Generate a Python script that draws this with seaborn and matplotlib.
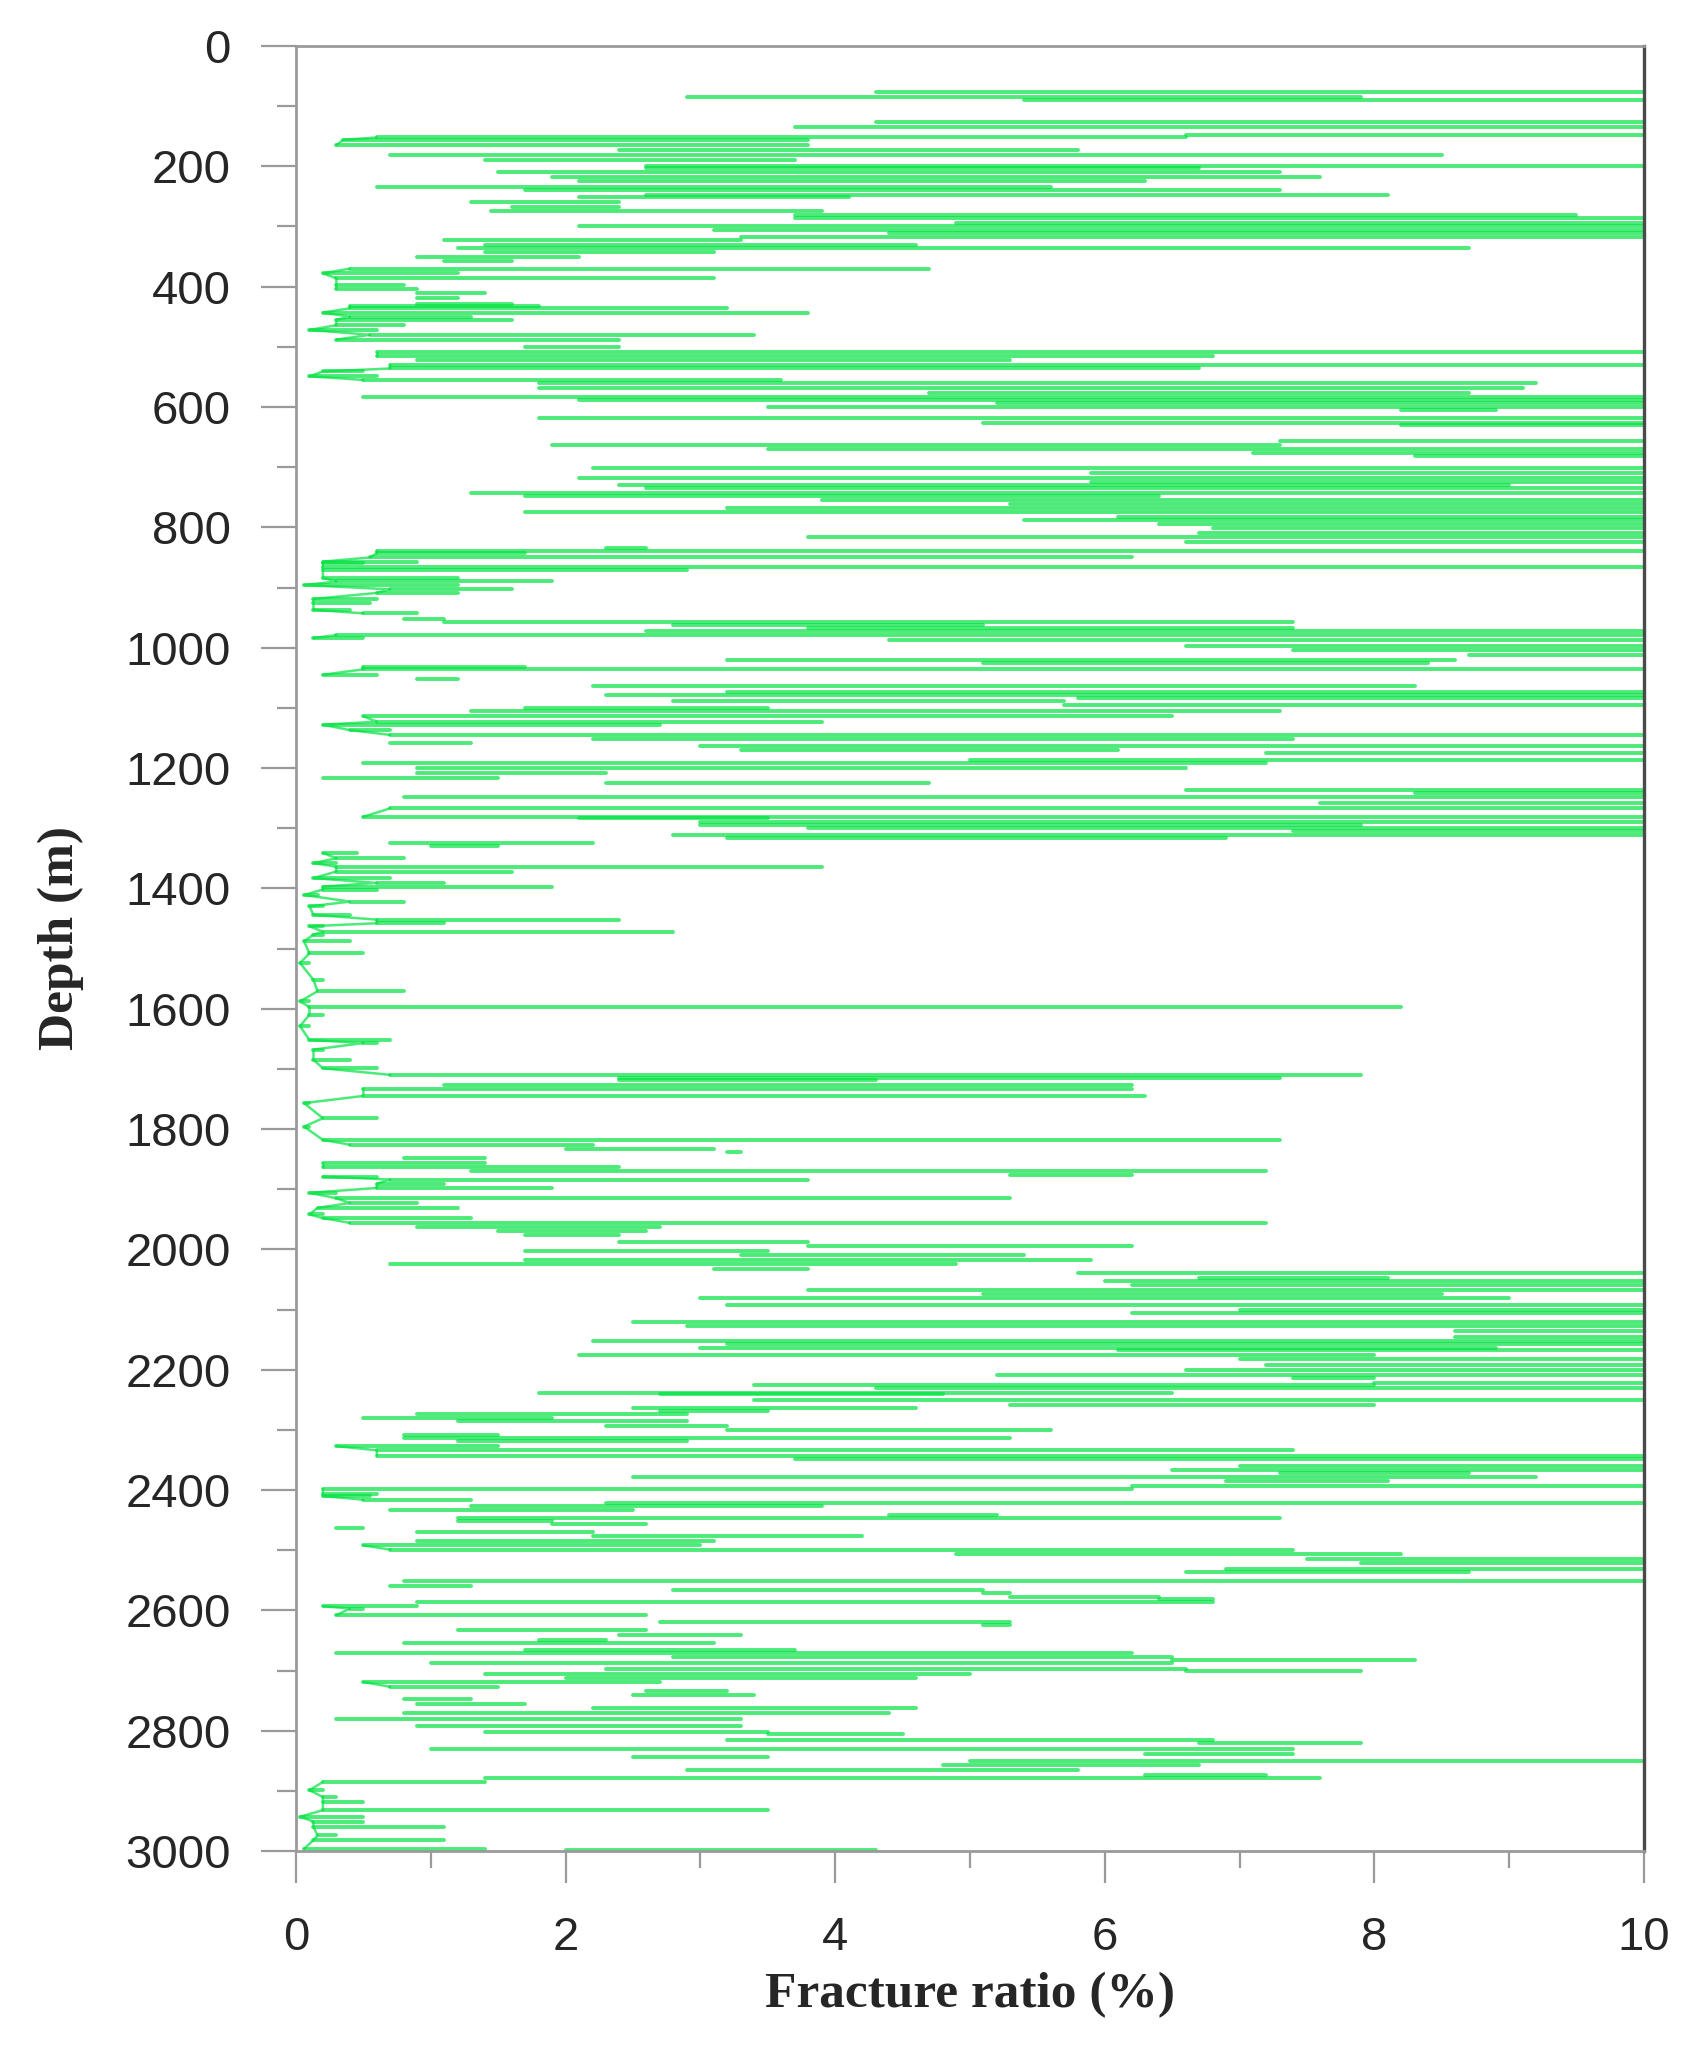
import numpy as np
import pandas as pd
import matplotlib
matplotlib.use("Agg")
import matplotlib.pyplot as plt
from matplotlib.ticker import MultipleLocator
import seaborn as sns

# Each horizontal stroke of the log: depth (m), left end and right end (%)
depth_m = [
    76, 84, 90, 126, 135, 148, 152, 156, 165, 173,
    181, 189, 199, 203, 210, 218, 225, 234, 240, 248,
    251, 260, 267, 275, 281, 286, 295, 300, 306, 311,
    317, 322, 331, 336, 342, 350, 358, 370, 378, 386,
    397, 404, 411, 419, 428, 432, 436, 443, 450, 455,
    464, 472, 480, 488, 500, 508, 516, 522, 530, 536,
    541, 549, 555, 560, 569, 577, 584, 588, 594, 600,
    605, 619, 626, 630, 657, 663, 670, 677, 682, 702,
    710, 718, 724, 729, 735, 743, 748, 754, 761, 768,
    775, 782, 788, 794, 801, 810, 816, 824, 835, 839,
    843, 850, 857, 860, 866, 871, 884, 890, 896, 903,
    909, 919, 926, 937, 943, 953, 958, 962, 968, 973,
    979, 984, 987, 997, 1004, 1012, 1020, 1026, 1032, 1036,
    1045, 1052, 1064, 1073, 1078, 1084, 1089, 1095, 1100, 1106,
    1114, 1123, 1128, 1137, 1145, 1152, 1158, 1164, 1170, 1175,
    1186, 1192, 1200, 1208, 1217, 1225, 1236, 1242, 1248, 1258,
    1267, 1281, 1283, 1290, 1294, 1300, 1305, 1311, 1316, 1325,
    1330, 1341, 1350, 1358, 1364, 1372, 1383, 1391, 1397, 1402,
    1411, 1422, 1430, 1444, 1452, 1458, 1463, 1472, 1477, 1488,
    1508, 1524, 1552, 1571, 1588, 1597, 1610, 1629, 1652, 1657,
    1668, 1685, 1699, 1710, 1715, 1718, 1726, 1733, 1745, 1757,
    1782, 1796, 1818, 1826, 1834, 1839, 1848, 1856, 1863, 1869,
    1876, 1879, 1884, 1891, 1898, 1906, 1915, 1923, 1931, 1942,
    1948, 1956, 1962, 1970, 1976, 1987, 1994, 2002, 2009, 2017,
    2024, 2033, 2039, 2048, 2053, 2060, 2068, 2075, 2081, 2092,
    2100, 2106, 2120, 2128, 2136, 2145, 2153, 2158, 2164, 2168,
    2175, 2183, 2192, 2200, 2208, 2214, 2222, 2225, 2230, 2239,
    2241, 2250, 2258, 2264, 2269, 2273, 2280, 2286, 2294, 2301,
    2308, 2313, 2319, 2327, 2334, 2343, 2349, 2360, 2366, 2372,
    2378, 2385, 2393, 2398, 2406, 2410, 2416, 2421, 2427, 2434,
    2441, 2446, 2452, 2457, 2463, 2470, 2477, 2485, 2492, 2499,
    2507, 2514, 2521, 2532, 2537, 2552, 2560, 2566, 2571, 2577,
    2581, 2586, 2593, 2597, 2608, 2619, 2625, 2633, 2641, 2649,
    2655, 2666, 2671, 2677, 2683, 2688, 2697, 2700, 2705, 2712,
    2719, 2727, 2734, 2741, 2748, 2755, 2763, 2771, 2780, 2792,
    2802, 2806, 2815, 2821, 2830, 2838, 2844, 2850, 2857, 2866,
    2874, 2879, 2885, 2899, 2910, 2918, 2932, 2943, 2951, 2960,
    2974, 2982, 2996, 2998,
]
low_pct = [
    4.3, 2.9, 5.4, 4.3, 3.7, 6.6, 0.6, 0.35, 0.3, 2.4,
    0.7, 1.4, 2.6, 2.6, 1.5, 1.9, 2.1, 0.6, 1.7, 2.6,
    2.1, 1.3, 1.6, 1.45, 3.7, 3.7, 4.9, 2.1, 3.1, 4.4,
    3.3, 1.1, 1.4, 1.2, 1.4, 0.9, 1.1, 0.4, 0.2, 0.3,
    0.3, 0.3, 0.9, 0.9, 0.9, 0.4, 0.4, 0.2, 0.4, 0.3,
    0.3, 0.1, 0.55, 0.3, 1.7, 0.6, 0.6, 0.9, 0.7, 0.7,
    0.2, 0.1, 0.5, 1.8, 1.8, 4.7, 0.5, 2.1, 5.2, 3.5,
    8.2, 1.8, 5.1, 8.2, 7.3, 1.9, 3.5, 7.1, 8.3, 2.2,
    5.9, 2.1, 5.9, 2.4, 2.6, 1.3, 1.7, 3.9, 5.3, 3.2,
    1.7, 6.1, 5.4, 6.4, 6.8, 6.7, 3.8, 6.6, 2.3, 0.6,
    0.6, 0.55, 0.2, 0.2, 0.2, 0.2, 0.2, 0.3, 0.06, 0.7,
    0.6, 0.13, 0.13, 0.13, 0.5, 0.8, 1.1, 2.8, 3.8, 2.6,
    0.3, 0.13, 4.4, 6.6, 7.4, 8.7, 3.2, 5.1, 0.5, 0.5,
    0.2, 0.9, 2.2, 3.2, 2.3, 5.8, 2.8, 5.7, 1.7, 1.3,
    0.5, 0.6, 0.2, 0.4, 0.7, 2.2, 0.7, 3.0, 3.3, 7.2,
    5.0, 0.5, 0.9, 0.9, 0.2, 2.3, 6.6, 8.3, 0.8, 7.6,
    0.7, 0.5, 2.1, 3.0, 3.0, 3.8, 7.4, 2.8, 3.2, 0.7,
    1.0, 0.2, 0.3, 0.13, 0.3, 0.3, 0.13, 0.6, 0.2, 0.2,
    0.06, 0.4, 0.1, 0.13, 0.6, 0.6, 0.1, 0.2, 0.13, 0.06,
    0.1, 0.03, 0.13, 0.16, 0.03, 0.1, 0.1, 0.03, 0.1, 0.5,
    0.13, 0.13, 0.2, 0.7, 2.4, 2.4, 1.1, 0.5, 0.5, 0.06,
    0.2, 0.06, 0.2, 0.4, 2.0, 3.2, 0.8, 0.2, 0.2, 1.3,
    5.3, 0.2, 0.7, 0.6, 0.6, 0.1, 0.3, 0.4, 0.16, 0.1,
    0.2, 0.4, 0.9, 1.5, 1.7, 2.4, 3.8, 1.7, 3.3, 1.7,
    0.7, 3.1, 5.8, 6.7, 6.0, 6.2, 3.8, 5.1, 3.0, 3.2,
    7.0, 6.2, 2.5, 2.9, 8.6, 8.6, 2.2, 3.2, 3.0, 6.1,
    2.1, 7.0, 7.2, 6.6, 5.2, 7.4, 8.0, 3.4, 4.3, 1.8,
    2.7, 3.4, 5.3, 2.5, 2.7, 0.9, 0.5, 1.2, 2.3, 3.2,
    0.8, 0.8, 1.2, 0.3, 0.6, 0.6, 3.7, 7.0, 6.5, 7.3,
    2.5, 6.9, 6.2, 0.2, 0.2, 0.2, 0.5, 2.3, 1.3, 0.7,
    4.4, 1.2, 1.2, 1.9, 0.3, 0.9, 2.2, 0.9, 0.5, 0.7,
    4.9, 7.5, 7.9, 6.9, 6.6, 0.8, 0.7, 2.8, 5.1, 5.3,
    6.4, 0.9, 0.2, 0.4, 0.3, 2.7, 5.1, 1.2, 2.4, 1.8,
    0.8, 1.7, 0.3, 2.8, 6.5, 1.0, 2.3, 6.6, 1.4, 2.0,
    0.5, 0.7, 2.6, 2.5, 0.8, 0.9, 2.2, 0.8, 0.3, 0.9,
    1.4, 3.5, 3.2, 6.7, 1.0, 6.3, 2.5, 5.0, 4.8, 2.9,
    6.3, 1.4, 0.2, 0.1, 0.2, 0.2, 0.2, 0.03, 0.13, 0.13,
    0.16, 0.13, 0.06, 2.0,
]
high_pct = [
    10, 7.9, 10, 10, 10, 10, 6.6, 3.8, 3.8, 5.8,
    8.5, 3.7, 10, 6.7, 7.3, 7.6, 6.3, 5.6, 7.3, 8.1,
    4.1, 2.4, 2.4, 3.9, 9.5, 10, 10, 10, 10, 10,
    10, 3.3, 4.6, 8.7, 3.1, 2.1, 1.6, 4.7, 1.2, 3.1,
    0.8, 0.9, 1.4, 1.2, 1.6, 1.8, 3.2, 3.8, 1.3, 1.6,
    0.8, 0.6, 3.4, 2.4, 2.4, 10, 6.8, 5.3, 10, 6.7,
    0.5, 0.6, 3.6, 9.2, 9.1, 8.7, 10, 10, 10, 10,
    8.9, 10, 10, 10, 10, 7.3, 10, 10, 10, 10,
    10, 10, 10, 9.0, 10, 10, 6.4, 10, 10, 10,
    10, 10, 10, 10, 10, 10, 10, 10, 2.6, 10,
    1.7, 6.2, 0.9, 0.5, 10, 2.9, 1.2, 1.9, 1.2, 1.6,
    1.2, 0.6, 0.55, 0.4, 0.9, 1.1, 7.4, 5.1, 7.4, 10,
    10, 0.5, 10, 10, 10, 10, 8.6, 8.4, 1.7, 10,
    0.6, 1.2, 8.3, 10, 10, 10, 5.7, 10, 3.5, 7.3,
    6.5, 3.9, 2.7, 0.7, 10, 7.4, 1.3, 10, 6.1, 10,
    10, 7.2, 6.6, 2.3, 1.5, 4.7, 10, 10, 10, 10,
    10, 10, 3.5, 10, 7.9, 10, 10, 10, 6.9, 2.2,
    1.5, 0.45, 0.8, 0.3, 3.9, 1.6, 0.7, 1.1, 1.9, 0.6,
    0.16, 0.8, 0.2, 0.4, 2.4, 1.1, 0.2, 2.8, 0.2, 0.4,
    0.5, 0.1, 0.2, 0.8, 0.1, 8.2, 0.2, 0.1, 0.7, 0.6,
    0.2, 0.4, 0.6, 7.9, 7.3, 4.3, 6.2, 6.2, 6.3, 0.1,
    0.6, 0.1, 7.3, 2.2, 3.1, 3.3, 1.4, 1.4, 2.4, 7.2,
    6.2, 0.6, 3.8, 1.1, 1.9, 0.3, 5.3, 0.9, 1.2, 0.2,
    1.3, 7.2, 2.7, 2.6, 2.4, 3.8, 6.2, 3.5, 5.4, 5.9,
    4.9, 3.8, 10, 8.1, 10, 10, 10, 8.5, 9.0, 10,
    10, 10, 10, 10, 10, 10, 10, 10, 8.9, 10,
    8.0, 10, 10, 10, 10, 8.0, 10, 8.0, 10, 6.5,
    4.8, 10, 8.0, 4.6, 3.5, 2.9, 1.9, 2.9, 3.2, 5.6,
    1.5, 5.3, 2.9, 1.5, 7.4, 10, 10, 10, 10, 8.7,
    9.2, 8.1, 10, 6.2, 0.6, 0.55, 1.3, 10, 3.9, 2.5,
    5.2, 7.3, 1.9, 2.6, 0.5, 2.2, 4.2, 3.1, 3.0, 7.4,
    8.2, 10, 10, 10, 8.7, 10, 1.3, 5.1, 5.3, 6.4,
    6.8, 6.8, 0.9, 0.5, 2.6, 5.3, 5.3, 2.6, 3.3, 2.3,
    3.1, 3.7, 6.2, 6.5, 8.3, 6.5, 6.6, 7.9, 5.0, 4.6,
    2.7, 1.5, 3.2, 3.4, 1.3, 1.7, 4.6, 4.4, 3.3, 3.3,
    3.5, 4.5, 6.8, 7.9, 7.4, 7.4, 3.5, 10, 6.7, 5.8,
    7.2, 7.6, 1.4, 0.2, 0.3, 0.5, 3.5, 0.5, 0.5, 1.1,
    0.3, 1.1, 1.4, 4.3,
]

x_ticks = [0, 2, 4, 6, 8, 10]
y_ticks = [0, 200, 400, 600, 800, 1000, 1200, 1400, 1600, 1800,
           2000, 2200, 2400, 2600, 2800, 3000]

# two points per stroke so every stroke is its own line
n = len(depth_m)
strokes = pd.DataFrame({
    "depth": np.repeat(depth_m, 2),
    "ratio": np.column_stack([low_pct, high_pct]).ravel(),
    "row": np.repeat(np.arange(n), 2),
})

# left-end trace only where the log hugs zero
low = np.array(low_pct)
near_zero = low <= 0.7
run = np.cumsum(~near_zero)
trace = pd.DataFrame({"depth": np.array(depth_m)[near_zero],
                      "ratio": low[near_zero],
                      "run": run[near_zero]})

sns.set_style("ticks")
plt.rcParams["font.family"] = ["Liberation Sans", "DejaVu Sans"]

fig = plt.figure(figsize=(16.97, 20.62), dpi=100)
ax = fig.add_axes([0.1744, 0.1023, 0.7943, 0.8754])

green = "#00E23F"
sns.lineplot(data=strokes, x="ratio", y="depth", units="row", estimator=None,
             sort=False, color=green, alpha=0.7, lw=2.8, ax=ax, legend=False)
sns.lineplot(data=trace, x="ratio", y="depth", units="run", estimator=None,
             sort=False, color=green, alpha=0.7, lw=1.8, ax=ax, legend=False)

ax.set_xlim(0, 10)
ax.set_ylim(3000, 0)
ax.set_xticks(x_ticks)
ax.set_yticks(y_ticks)
ax.xaxis.set_minor_locator(MultipleLocator(1))
ax.yaxis.set_minor_locator(MultipleLocator(100))

grey = "#9a9a9a"
ax.tick_params(axis="y", which="major", direction="out", length=25, width=1.6,
               color=grey, labelsize=34, pad=22, left=True)
ax.tick_params(axis="y", which="minor", direction="out", length=14, width=1.6,
               color=grey, left=True)
ax.tick_params(axis="x", which="major", direction="out", length=23, width=1.6,
               color=grey, labelsize=34, pad=24, bottom=True)
ax.tick_params(axis="x", which="minor", direction="out", length=12, width=1.6,
               color=grey, bottom=True)

for side in ["top", "left", "bottom"]:
    ax.spines[side].set_visible(True)
    ax.spines[side].set_color(grey)
    ax.spines[side].set_linewidth(2.0)
ax.spines["right"].set_visible(True)
ax.spines["right"].set_color("#4a4a4a")
ax.spines["right"].set_linewidth(2.4)

ax.set_xlabel("Fracture ratio (%)", family=["Liberation Serif"],
              fontweight="bold", fontsize=37)
ax.set_ylabel("Depth (m)", family=["Liberation Serif"],
              fontweight="bold", fontsize=37)
ax.xaxis.set_label_coords(0.5, -0.067)
ax.yaxis.set_label_coords(-0.157, 0.506)

fig.savefig("out.png", dpi=100)
